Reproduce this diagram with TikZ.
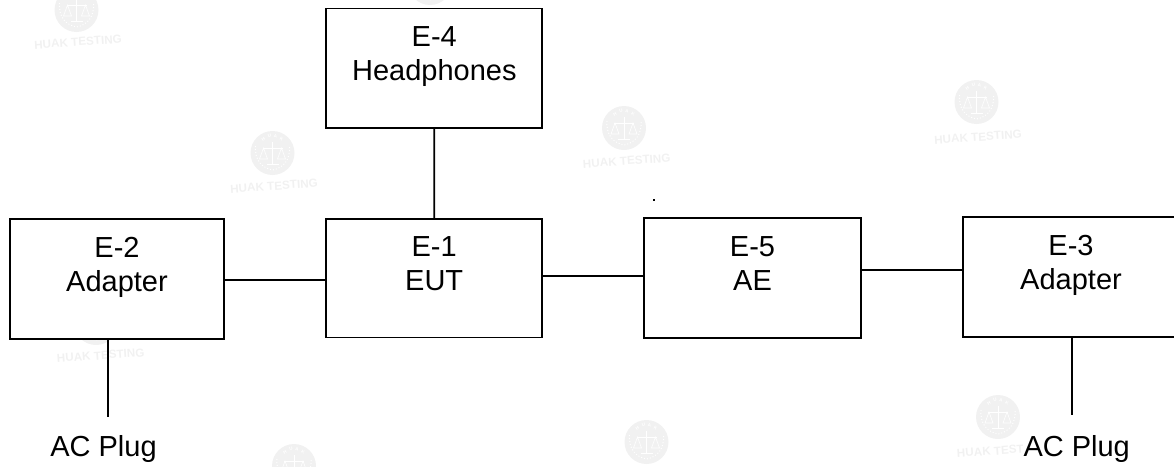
\documentclass[tikz,border=0pt]{standalone}
\usepackage{fontspec}
\setmainfont{Liberation Sans}
\definecolor{wm}{HTML}{F1F1F1}
\definecolor{wmt}{HTML}{F1F1F1}
\newcommand{\twolines}[2]{#1\\\rule[-29.7pt]{0pt}{1pt}#2}
\newcommand{\wmsealbody}{%
  \fill[wm] (0,0) circle[radius=22];
  \draw[white,line width=0.9pt] (0,-11) -- (0,11) (-10,-5) -- (10,-5) (-6,11) -- (6,11);
  \draw[white,line width=0.6pt] (-9,-5) -- (-13,6) -- (-5,6) -- cycle (9,-5) -- (13,6) -- (5,6) -- cycle;
  \draw[white,line width=1pt,dotted] (-17,-7) .. controls (-18,8) and (-10,15) .. (0,17) .. controls (10,15) and (18,8) .. (17,-7);
}
\tikzset{
  boxn/.style 2 args={draw=black,line width=1.8pt,fill=white,minimum width=#1,minimum height=#2,inner sep=0pt,
    align=center,font=\fontsize{29}{34}\selectfont},
  plug/.style={fill=white,inner sep=1pt,anchor=base,font=\fontsize{29}{34}\selectfont},
  wire/.style={line width=1.7pt},
  wmtext/.style={text=wmt,font=\bfseries\fontsize{11.7}{12}\selectfont,inner sep=0pt,rotate=4},
  wmlet/.style={text=white,font=\bfseries\fontsize{4.5}{5}\selectfont,inner sep=0pt},
  pics/seal/.style={code={
    \wmsealbody
    \node[wmlet,rotate=32] (h) at (-9,-14) {H};
    \node[wmlet,rotate=10] (u) at (-3,-17) {U};
    \node[wmlet,rotate=-10] (a) at (3,-17) {A};
    \node[wmlet,rotate=-32] (k) at (9,-14) {K};
  }},
  pics/sealplain/.style={code={\wmsealbody}}
}
\begin{document}
\begin{tikzpicture}[x=1pt,y=-1pt]
\useasboundingbox (0,0) rectangle (1174,466);
% watermarks
\foreach \sx/\sy in {272.5/153, 624/128, 976.5/102, 998/417, 294/466, 646.5/442}{
  \pic at (\sx,\sy) {seal};
}
\foreach \sx/\sy in {76.5/10, 96/323, 430/-17}{
  \pic at (\sx,\sy) {sealplain};
}
\foreach \n/\tx/\ty in {a/78/42, b/274/186, c/626.7/161, d/978/137, e/100.7/355.5, h/1000.7/450.5}{
  \node[wmtext] (wm\n) at (\tx,\ty) {HUAK TESTING};
}
% boxes
\node[boxn={216pt}{119.5pt}] (e4) at (434.3,68.2) {\twolines{E-4}{Headphones}};
\node[boxn={214pt}{119.4pt}] (e2) at (117,279) {\twolines{E-2}{Adapter}};
\node[boxn={216pt}{118.5pt}] (e1) at (434.2,278.2) {\twolines{E-1}{EUT}};
\node[boxn={216.4pt}{120pt}] (e5) at (752.5,278.3) {\twolines{E-5}{AE}};
\node[boxn={216.6pt}{119.7pt}] (e3) at (1071,277.1) {\twolines{E-3}{Adapter}};
\node[plug] (p2) at (103.5,456) {AC Plug};
\node[plug] (p3) at (1076.7,456) {AC Plug};
\coordinate (p2top) at (108,417);
\coordinate (p3top) at (1072.3,415);
\coordinate (w21) at (0,280.3);
\coordinate (w15) at (0,276);
\coordinate (w53) at (0,270.3);
% connectors
\draw[wire] (e4.south) -- (e1.north);
\draw[wire] (e2.east |- w21) -- (e1.west |- w21);
\draw[wire] (e1.east |- w15) -- (e5.west |- w15);
\draw[wire] (e5.east |- w53) -- (e3.west |- w53);
\draw[wire] (e2.south -| p2top) -- (p2top);
\draw[wire] (e3.south -| p3top) -- (p3top);
\node[fill=black,inner sep=0pt,minimum size=1.6pt] (dot) at (654,200) {};
\end{tikzpicture}
\end{document}
